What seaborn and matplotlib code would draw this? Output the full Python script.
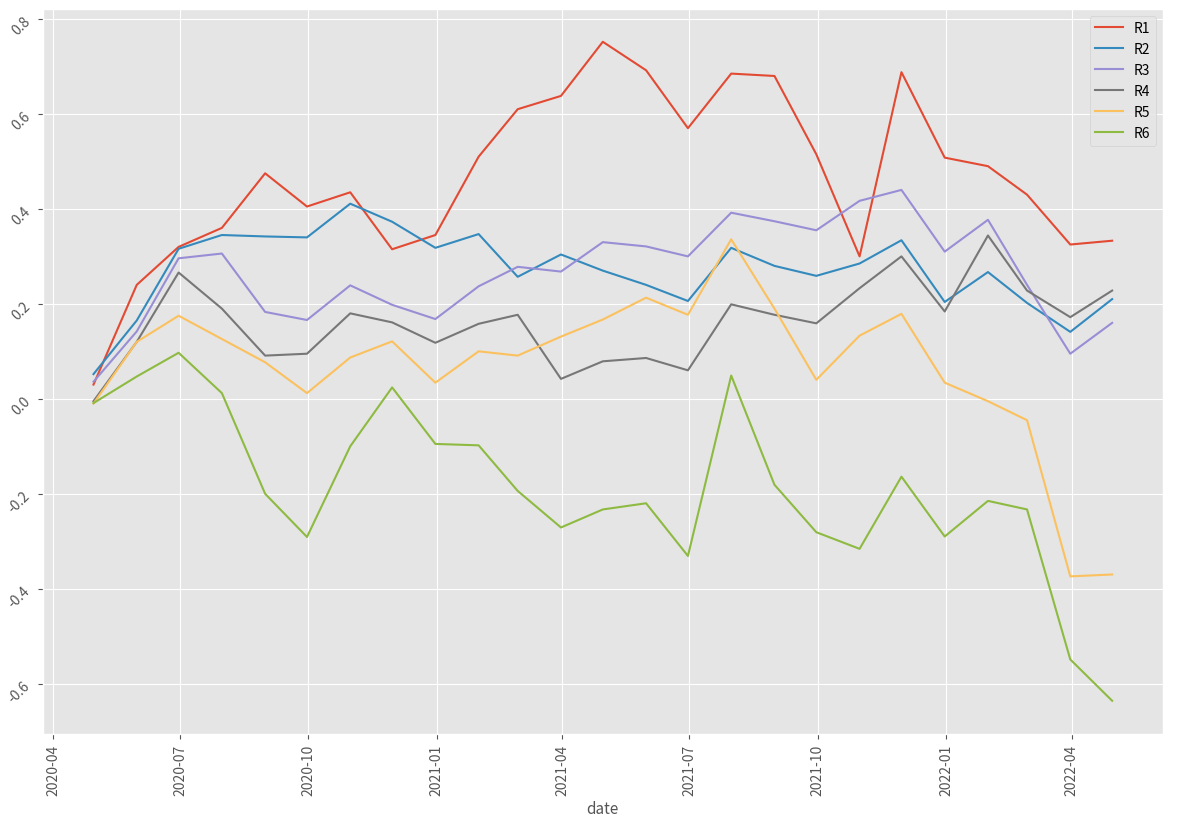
import pandas as pd
import numpy as np
import matplotlib
matplotlib.use('Agg')
import matplotlib.pyplot as plt
import seaborn as sns

# monthly values
dates = pd.date_range('2020-04-01', periods=25, freq='MS') + pd.offsets.MonthEnd(0)
r1 = [0.03, 0.24, 0.32, 0.36, 0.475, 0.405, 0.435, 0.315, 0.345, 0.51, 0.61, 0.638, 0.752,
      0.692, 0.57, 0.685, 0.68, 0.515, 0.30, 0.688, 0.508, 0.49, 0.43, 0.325, 0.333]
r2 = [0.052, 0.165, 0.316, 0.345, 0.342, 0.34, 0.411, 0.373, 0.318, 0.347, 0.257, 0.304, 0.27,
      0.24, 0.206, 0.318, 0.28, 0.259, 0.285, 0.334, 0.204, 0.267, 0.202, 0.141, 0.21]
r3 = [0.036, 0.142, 0.296, 0.306, 0.183, 0.166, 0.239, 0.198, 0.168, 0.237, 0.278, 0.268, 0.33,
      0.321, 0.30, 0.392, 0.374, 0.355, 0.417, 0.44, 0.31, 0.377, 0.24, 0.095, 0.16]
r4 = [-0.005, 0.12, 0.266, 0.19, 0.091, 0.095, 0.18, 0.161, 0.118, 0.158, 0.177, 0.042, 0.079,
      0.086, 0.06, 0.199, 0.177, 0.159, 0.233, 0.30, 0.184, 0.344, 0.228, 0.172, 0.228]
r5 = [-0.01, 0.12, 0.175, 0.126, 0.077, 0.012, 0.087, 0.121, 0.034, 0.1, 0.091, 0.131, 0.167,
      0.213, 0.177, 0.336, 0.19, 0.04, 0.133, 0.179, 0.034, -0.005, -0.045, -0.374, -0.37]
r6 = [-0.009, 0.047, 0.097, 0.012, -0.2, -0.291, -0.1, 0.024, -0.095, -0.098, -0.194, -0.271, -0.233,
      -0.22, -0.331, 0.049, -0.181, -0.281, -0.316, -0.164, -0.29, -0.215, -0.233, -0.549, -0.636]

series_names = ['R1', 'R2', 'R3', 'R4', 'R5', 'R6']

df = pd.DataFrame({'date': dates, 'R1': r1, 'R2': r2, 'R3': r3,
                   'R4': r4, 'R5': r5, 'R6': r6})
long_df = df.melt(id_vars='date', var_name='region', value_name='value')

plt.style.use('ggplot')
plt.rcParams['font.family'] = ['Noto Sans CJK KR', 'DejaVu Sans']
plt.rcParams['axes.unicode_minus'] = False

palette = ['#E24A33', '#348ABD', '#988ED5', '#777777', '#FBC15E', '#8EBA42']

fig, ax = plt.subplots(figsize=(11.82, 8.2), dpi=100)
sns.lineplot(data=long_df, x='date', y='value', hue='region', hue_order=series_names,
             palette=palette, linewidth=1.5, ax=ax)

ax.set_ylabel('')
ax.set_xlabel('date', fontsize=11)
ax.legend(loc='upper right', fontsize=10)
plt.setp(ax.get_xticklabels(), rotation=90)
plt.setp(ax.get_yticklabels(), rotation=45)

plt.subplots_adjust(left=0.036, right=0.984, top=0.988, bottom=0.104)
plt.savefig('out.png', dpi=100)
